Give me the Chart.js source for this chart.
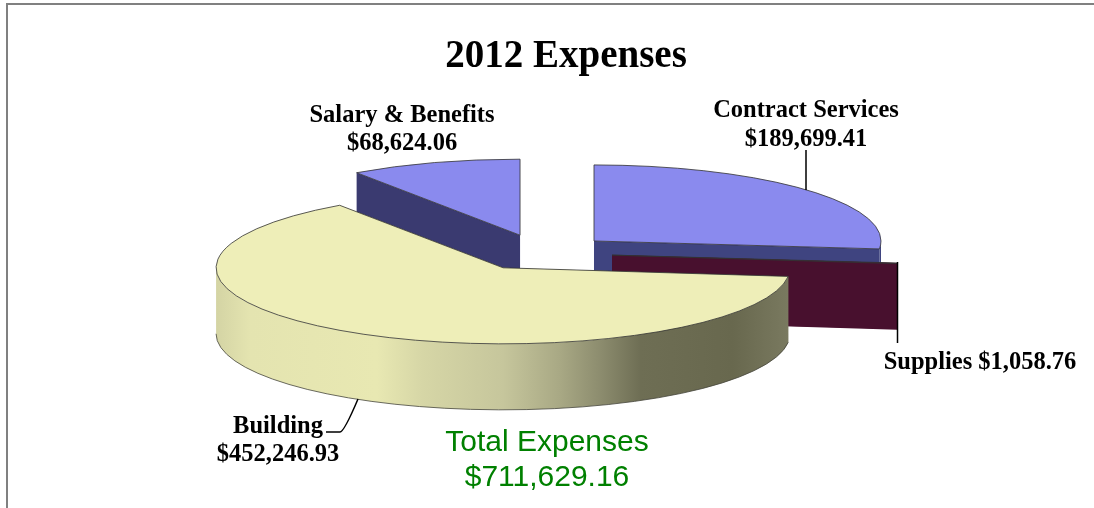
<!DOCTYPE html>
<html>
<head>
<meta charset="utf-8">
<style>
  html, body { margin: 0; padding: 0; background: #fff; }
  canvas { display: block; }
</style>
<script src="https://cdn.jsdelivr.net/npm/chart.js@4"></script>
</head>
<body>
<canvas id="expenses" width="1094" height="508"></canvas>
<script>
const categories = ['Contract Services', 'Supplies', 'Building', 'Salary & Benefits'];
const expenses = [189699.41, 1058.76, 452246.93, 68624.06];
const explode = [64.6, 66.4, 83.6, 87];
const nudgeY = [-0.5, 2.5, 1, 2.5];
const topColors = ['#8a8aee', '#5a1a3a', '#eeeeb8', '#8a8aee'];
const wallColors = ['#3f4480', '#48102e', '#b0b088', '#3a3a70'];
const buildingWallStops = [
  [0, '#d4d4a4'], [0.06, '#e4e4b0'], [0.28, '#e8e8b2'], [0.36, '#d6d6a6'], [0.5, '#c6c69c'],
  [0.6, '#a8a884'], [0.67, '#8c8c6e'], [0.74, '#6e6e54'], [0.9, '#68684e'], [1, '#7a7a60']
];

const tilt = 0.265;
const explodeTilt = 0.22;
const wallHeight = 66;

function drawSlice(ctx, el, i) {
  const r = el.outerRadius;
  const a0 = el.startAngle;
  const a1 = el.endAngle;
  const mid = (a0 + a1) / 2;
  const off = el.options.offset;
  const x = el.x + Math.cos(mid) * off;
  const y = el.y + Math.sin(mid) * off * explodeTilt + nudgeY[i];
  const px = a => x + Math.cos(a) * r;
  const py = a => y + Math.sin(a) * r * tilt;

  let wall = wallColors[i];
  if (categories[i] === 'Building') {
    wall = ctx.createLinearGradient(x - r, 0, x + r, 0);
    buildingWallStops.forEach(s => wall.addColorStop(s[0], s[1]));
  }

  // radial walls
  ctx.fillStyle = wall;
  [a0, a1].forEach(a => {
    ctx.beginPath();
    ctx.moveTo(x, y);
    ctx.lineTo(px(a), py(a));
    ctx.lineTo(px(a), py(a) + wallHeight);
    ctx.lineTo(x, y + wallHeight);
    ctx.closePath();
    ctx.fill();
  });

  // curved wall, front half only
  const f0 = Math.max(a0, 0);
  const f1 = Math.min(a1, Math.PI);
  if (f1 > f0) {
    ctx.beginPath();
    ctx.ellipse(x, y, r, r * tilt, 0, f0, f1);
    ctx.ellipse(x, y + wallHeight, r, r * tilt, 0, f1, f0, true);
    ctx.closePath();
    ctx.fill();
    ctx.beginPath();
    ctx.ellipse(x, y + wallHeight, r, r * tilt, 0, f0, f1);
    ctx.strokeStyle = 'rgba(70,70,60,0.8)';
    ctx.lineWidth = 1;
    ctx.stroke();
  }

  // top face
  ctx.beginPath();
  ctx.moveTo(x, y);
  ctx.ellipse(x, y, r, r * tilt, 0, a0, a1);
  ctx.closePath();
  ctx.fillStyle = el.options.backgroundColor;
  ctx.fill();
  ctx.strokeStyle = 'rgba(50,50,50,0.8)';
  ctx.lineWidth = 1;
  ctx.stroke();
}

const pie3d = {
  id: 'pie3d',
  beforeDatasetsDraw(chart) {
    const ctx = chart.ctx;
    const arcs = chart.getDatasetMeta(0).data;
    const order = arcs.map((el, i) => i).sort((p, q) =>
      Math.sin((arcs[p].startAngle + arcs[p].endAngle) / 2) -
      Math.sin((arcs[q].startAngle + arcs[q].endAngle) / 2));
    ctx.save();
    order.forEach(i => drawSlice(ctx, arcs[i], i));
    ctx.restore();
    return false;
  }
};

const money = v => '$' + v.toLocaleString('en-US', { minimumFractionDigits: 2, maximumFractionDigits: 2 });
const total = expenses.reduce((a, b) => a + b, 0);

const annotations = {
  id: 'annotations',
  afterDraw(chart) {
    const ctx = chart.ctx;
    ctx.save();

    // frame, only top and left show in the picture
    ctx.strokeStyle = '#808080';
    ctx.lineWidth = 2;
    ctx.beginPath();
    ctx.moveTo(7, 508);
    ctx.lineTo(7, 4);
    ctx.lineTo(1094, 4);
    ctx.stroke();

    // leader lines
    ctx.strokeStyle = '#000';
    ctx.lineWidth = 1.5;
    ctx.beginPath();
    ctx.moveTo(806, 150); ctx.lineTo(806, 190);
    ctx.moveTo(897.5, 262); ctx.lineTo(897.5, 343);
    ctx.moveTo(326, 432); ctx.lineTo(340, 432); ctx.quadraticCurveTo(344, 432, 358, 399);
    ctx.stroke();

    ctx.textAlign = 'center';
    ctx.textBaseline = 'alphabetic';
    ctx.fillStyle = '#000';
    ctx.font = 'bold 39px "Liberation Serif"';
    ctx.fillText('2012 Expenses', 566, 67);

    ctx.font = 'bold 24.5px "Liberation Serif"';
    ctx.fillText(categories[3], 402, 122);
    ctx.fillText(money(expenses[3]), 402, 150);
    ctx.fillText(categories[0], 806, 117);
    ctx.fillText(money(expenses[0]), 806, 146);
    ctx.fillText(categories[1] + ' ' + money(expenses[1]), 980, 369);
    ctx.fillText(categories[2], 278, 433);
    ctx.fillText(money(expenses[2]), 278, 461);

    ctx.fillStyle = '#008000';
    ctx.font = '30px "Liberation Sans"';
    ctx.fillText('Total Expenses', 547, 451);
    ctx.fillText(money(total), 547, 486);
    ctx.restore();
  }
};

new Chart(document.getElementById('expenses'), {
  type: 'pie',
  data: {
    labels: categories,
    datasets: [{
      data: expenses,
      backgroundColor: topColors,
      offset: explode,
      radius: 287,
      borderWidth: 0
    }]
  },
  options: {
    responsive: false,
    animation: false,
    layout: { padding: { right: 2, bottom: 6 } },
    plugins: { legend: { display: false }, tooltip: { enabled: false } }
  },
  plugins: [pie3d, annotations]
});
</script>
</body>
</html>
